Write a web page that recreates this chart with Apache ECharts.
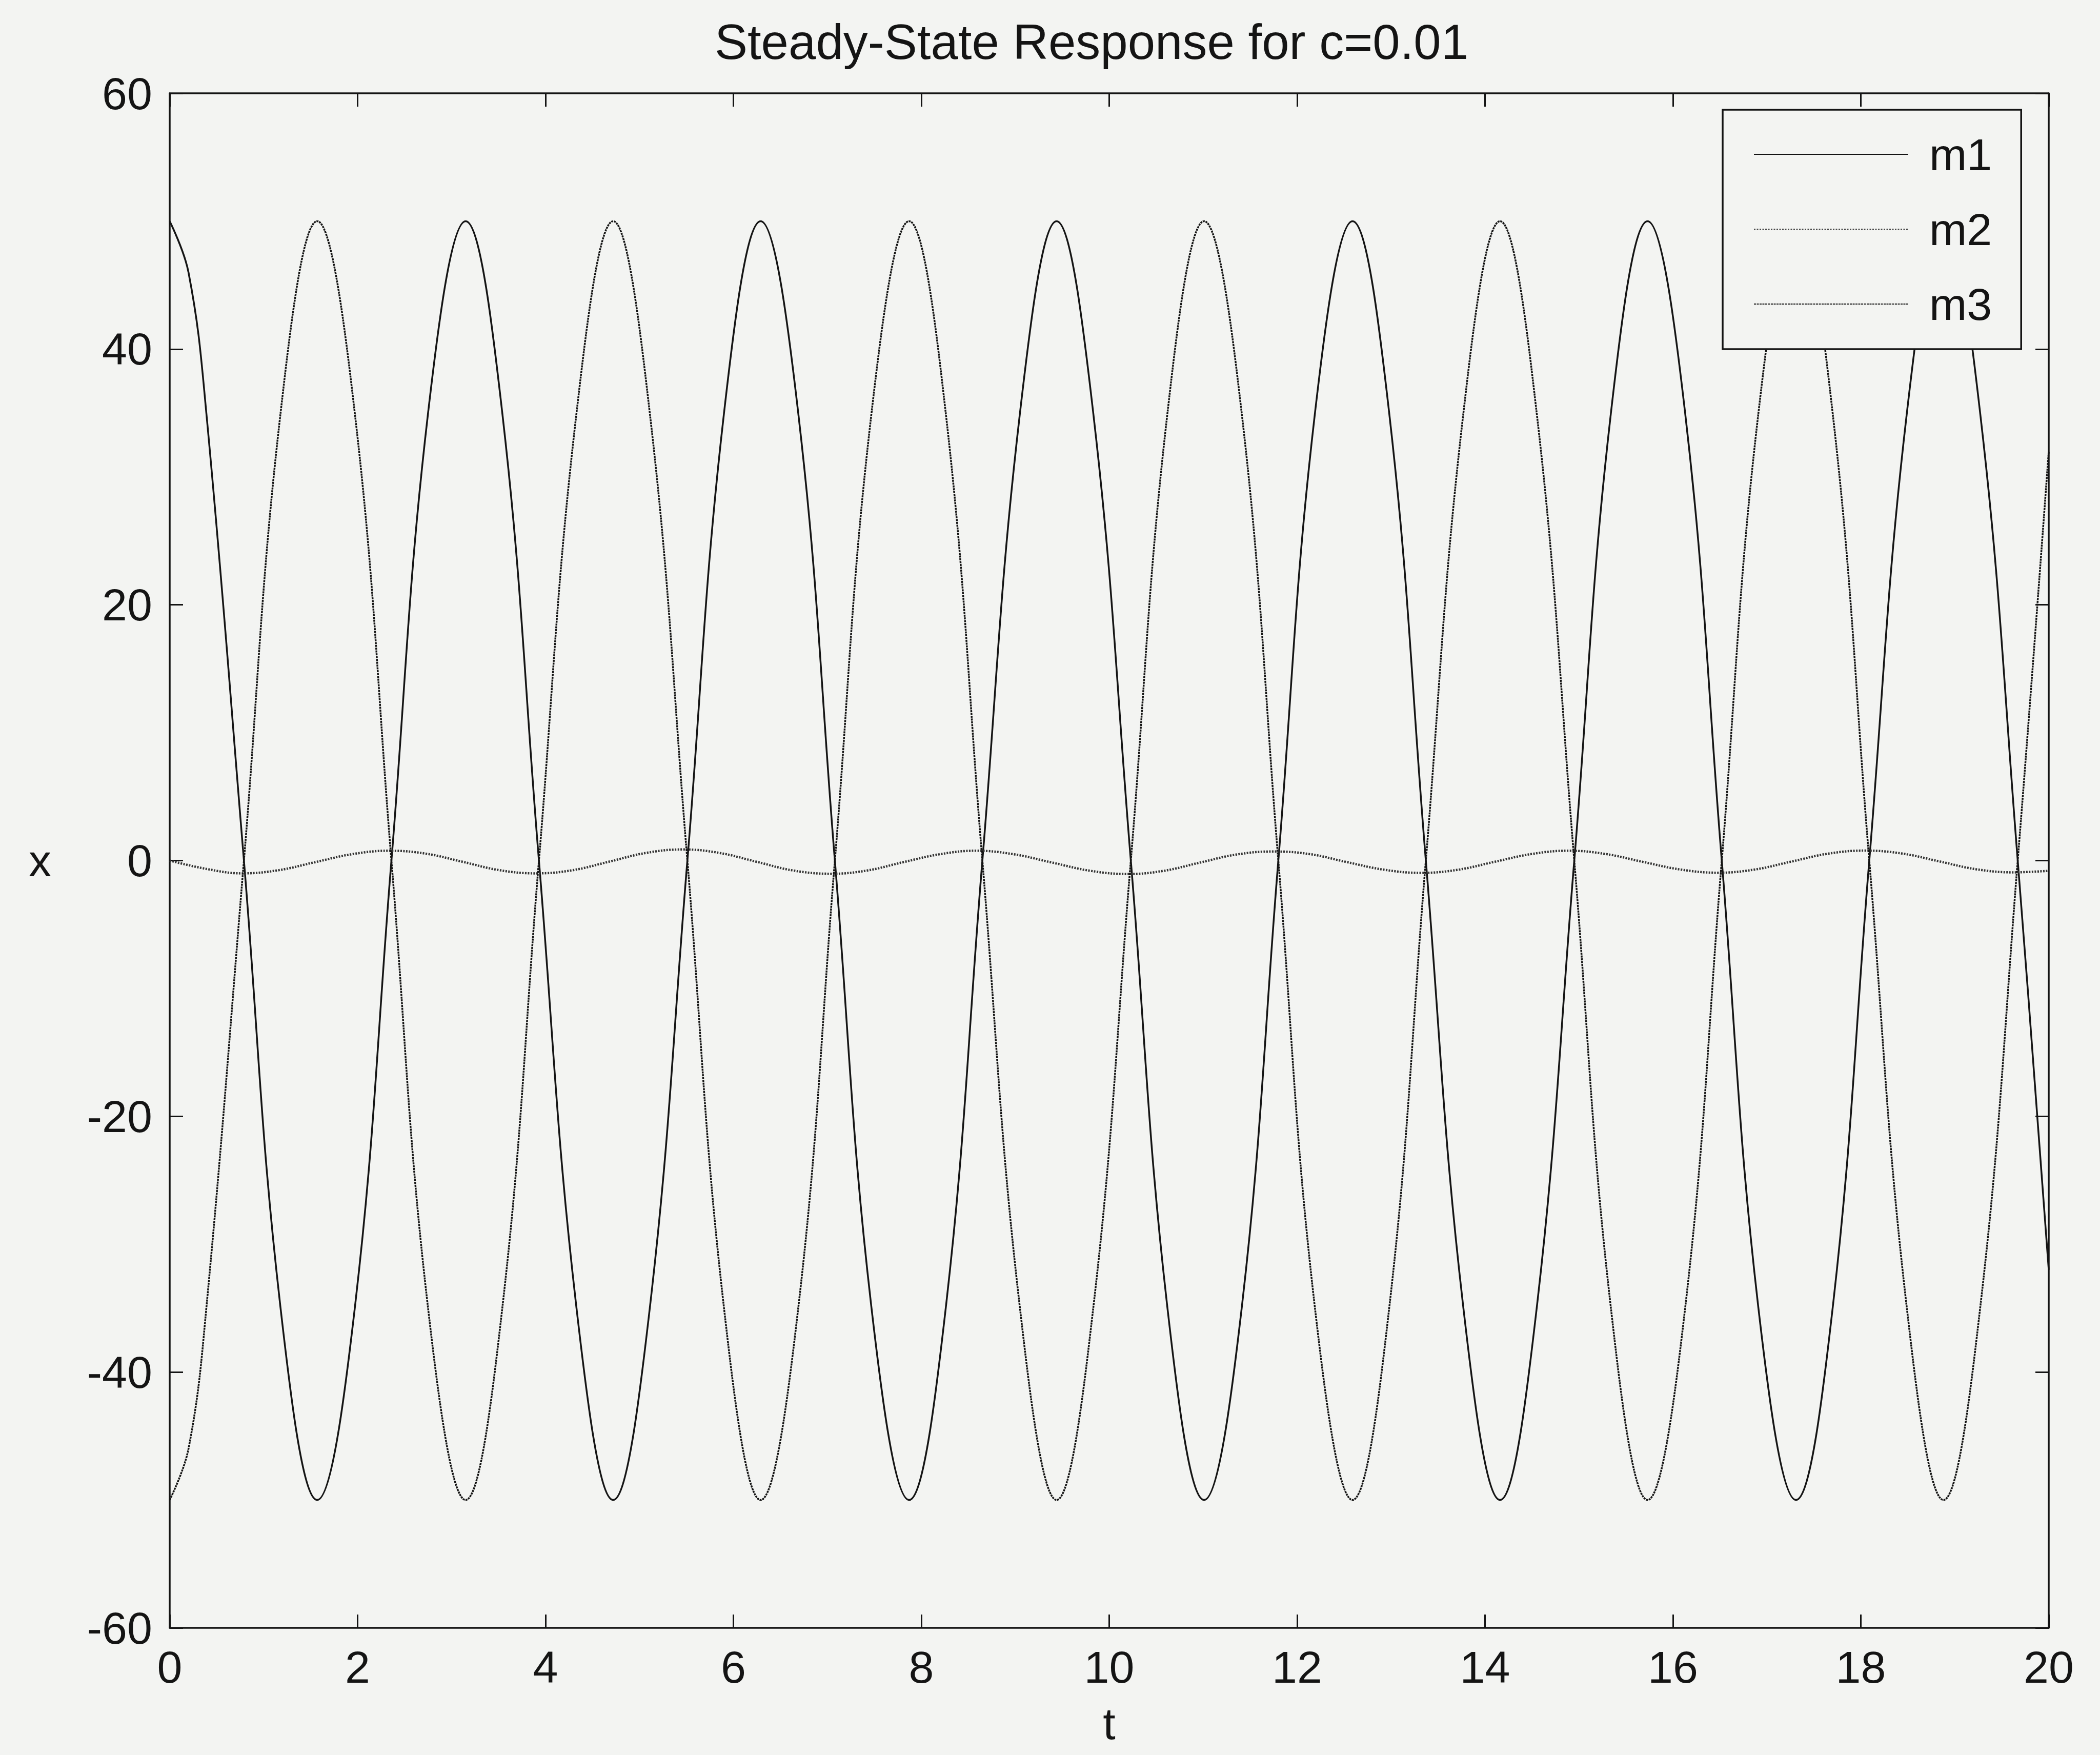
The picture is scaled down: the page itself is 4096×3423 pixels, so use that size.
<!DOCTYPE html>
<html><head><meta charset="utf-8">
<script src="https://cdn.jsdelivr.net/npm/echarts@6/dist/echarts.min.js"></script>
<style>html,body{margin:0;padding:0;background:#f3f4f2}#c{width:4096px;height:3423px}</style>
</head><body><div id="c"></div>
<script>
// ---- data ----
const titleText = 'Steady-State Response for c=0.01';
const xName = 't';
const yName = 'x';
const seriesNames = ['m1', 'm2', 'm3'];
const xMin = 0, xMax = 20, xStep = 2;
const yMin = -60, yMax = 60, yStep = 20;

// sample times for m1 and m3 (peaks, troughs, crossings and points between)
const tBig = [0,0.2,0.39,0.79,1.18,1.57,1.97,2.36,2.75,3.15,3.54,3.93,4.33,4.72,5.11,5.51,5.90,
  6.29,6.69,7.08,7.47,7.87,8.26,8.65,9.05,9.44,9.83,10.23,10.62,11.01,11.41,11.80,12.19,
  12.59,12.98,13.37,13.77,14.16,14.55,14.95,15.34,15.73,16.13,16.52,16.91,17.31,17.70,
  18.09,18.49,18.88,19.27,19.67,20];
const m1 = [50,46,35,0,-35,-50,-35,0,35, 50,35,0,-35,-50,-35,0,35, 50,35,0,-35,-50,-35,0,35,
  50,35,0,-35,-50,-35,0,35, 50,35,0,-35,-50,-35,0,35, 50,35,0,-35,-50,-35,0,35, 50,35,0,-32];
const m3 = [-50,-46,-35,0,35,50,35,0,-35, -50,-35,0,35,50,35,0,-35, -50,-35,0,35,50,35,0,-35,
  -50,-35,0,35,50,35,0,-35, -50,-35,0,35,50,35,0,-35, -50,-35,0,35,50,35,0,-35, -50,-35,0,32];

// m2: small oscillation around zero
const tM2 = [0,0.39,0.77,1.16,1.55,1.94,2.33,2.72,3.12,3.51,3.90,4.29,4.68,5.07,5.46,5.85,
  6.25,6.64,7.04,7.42,7.81,8.20,8.58,8.98,9.39,9.80,10.20,10.58,10.97,11.36,11.75,12.14,
  12.53,12.93,13.32,13.71,14.10,14.50,14.89,15.28,15.68,16.08,16.48,16.87,17.26,17.66,
  18.05,18.44,18.84,19.23,19.62,20];
const m2 = [0,-0.65,-1.0,-0.75,-0.12,0.5,0.77,0.55, -0.1,-0.75,-1.0,-0.75,-0.08,0.6,0.87,0.6,
  -0.1,-0.78,-1.03,-0.78,-0.12,0.5,0.77,0.5, -0.15,-0.8,-1.05,-0.8,-0.15,0.48,0.71,0.5,
  -0.12,-0.72,-0.96,-0.72,-0.1,0.52,0.77,0.52, -0.1,-0.7,-0.95,-0.7,-0.08,0.55,0.78,0.55,
  -0.07,-0.68,-0.92,-0.8];

// ---- chart ----
const FONT = '"Liberation Sans", Arial, Helvetica, sans-serif';
const INK = '#141414';
const BG = '#f3f4f2';
const pair = (ts, vs) => ts.map((t, i) => [t, vs[i]]);

const axisLine = { show: true, onZero: false, lineStyle: { color: INK, width: 3.5 } };
const tick = { show: true, inside: true, length: 26, lineStyle: { color: INK, width: 3 } };

const chart = echarts.init(document.getElementById('c'), null, { renderer: 'svg', width: 4096, height: 3423 });
chart.setOption({
  backgroundColor: BG,
  animation: false,
  title: {
    text: titleText, left: 2129, top: 33, textAlign: 'center', padding: 0,
    textStyle: { fontFamily: FONT, fontSize: 96, fontWeight: 'normal', color: INK }
  },
  grid: { left: 331, right: 100, top: 182, bottom: 248, containLabel: false, outerBoundsMode: 'none' },
  legend: {
    data: seriesNames, orient: 'vertical', left: 3360, top: 214,
    padding: [37, 57, 38, 60], itemWidth: 301, itemHeight: 30, itemGap: 46,
    backgroundColor: BG, borderColor: INK, borderWidth: 3.5, borderRadius: 0,
    itemStyle: { color: 'rgba(0,0,0,0)', borderWidth: 0, opacity: 0 },
    textStyle: { fontFamily: FONT, fontSize: 88, color: INK, lineHeight: 100, padding: [0, 0, 0, 36] },
    z: 10
  },
  xAxis: [{
    type: 'value', min: xMin, max: xMax, interval: xStep, position: 'bottom',
    name: xName, nameLocation: 'middle', nameGap: 140,
    nameTextStyle: { fontFamily: FONT, fontSize: 88, color: INK, lineHeight: 92 },
    axisLine: axisLine, axisTick: tick,
    axisLabel: { fontFamily: FONT, fontSize: 88, color: INK, margin: 32 },
    splitLine: { show: false }
  }, {
    type: 'value', min: xMin, max: xMax, interval: xStep, position: 'top',
    axisLine: axisLine, axisTick: tick,
    axisLabel: { show: false }, splitLine: { show: false }
  }],
  yAxis: [{
    type: 'value', min: yMin, max: yMax, interval: yStep, position: 'left',
    name: yName, nameLocation: 'middle', nameGap: 231, nameRotate: 0,
    nameTextStyle: { fontFamily: FONT, fontSize: 88, color: INK },
    axisLine: axisLine, axisTick: tick,
    axisLabel: { fontFamily: FONT, fontSize: 88, color: INK, margin: 34 },
    splitLine: { show: false }
  }, {
    type: 'value', min: yMin, max: yMax, interval: yStep, position: 'right',
    axisLine: axisLine, axisTick: tick,
    axisLabel: { show: false }, splitLine: { show: false }
  }],
  series: [
    { name: seriesNames[0], type: 'line', data: pair(tBig, m1), smooth: 0.4, symbol: 'none',
      lineStyle: { color: '#141414', width: 3.5, type: 'solid' }, itemStyle: { color: '#141414' } },
    { name: seriesNames[1], type: 'line', data: pair(tM2, m2), smooth: 0.4, symbol: 'none',
      lineStyle: { color: '#333333', width: 4.5, type: [3, 2.5] }, itemStyle: { color: '#333333' } },
    { name: seriesNames[2], type: 'line', data: pair(tBig, m3), smooth: 0.4, symbol: 'none',
      lineStyle: { color: '#141414', width: 3.5, type: [4, 1.5] }, itemStyle: { color: '#141414' } }
  ]
});
</script>
</body></html>
